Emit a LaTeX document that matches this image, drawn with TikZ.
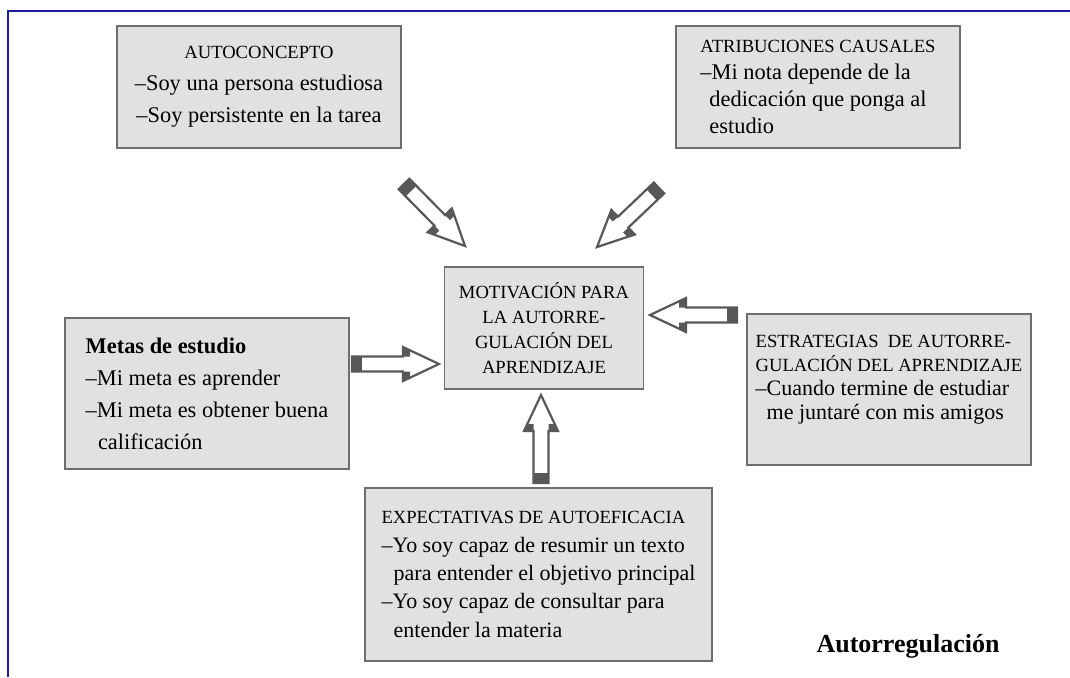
\documentclass[tikz,border=0pt]{standalone}
\usepackage{fontspec}
\setmainfont{Liberation Serif}
\usetikzlibrary{calc}

\definecolor{boxfill}{HTML}{E1E1E1}
\definecolor{boxedge}{HTML}{6E6E6E}
\definecolor{arrowdark}{HTML}{58585A}
\definecolor{frameblue}{HTML}{1E1EA0}

\newcommand{\hd}[1]{{\fontsize{9.3}{\baselineskip}\selectfont #1}}

% hollow block arrow from #1 (tail) to #2 (tip)
\newcommand{\hollowarrow}[2]{%
  \filldraw[arrowbody] ($(#1)!3.75pt!90:(#2)$)
    -- ($(#2)!18pt!(#1)!3.75pt!-90:(#1)$)
    -- ($(#2)!18pt!(#1)!8.5pt!-90:(#1)$)
    -- (#2)
    -- ($(#2)!18pt!(#1)!8.5pt!90:(#1)$)
    -- ($(#2)!18pt!(#1)!3.75pt!90:(#1)$)
    -- ($(#1)!3.75pt!-90:(#2)$) -- cycle;
  \fill[arrowdark] ($(#1)!3.75pt!90:(#2)$) -- ($(#1)!3.75pt!-90:(#2)$)
    -- ($(#1)!5pt!(#2)!3.75pt!-90:(#2)$) -- ($(#1)!5pt!(#2)!3.75pt!90:(#2)$) -- cycle;
  \fill[arrowdark] ($(#2)!18pt!(#1)!3.75pt!-90:(#1)$) -- ($(#2)!18pt!(#1)!8.5pt!-90:(#1)$)
    -- ($(#2)!14.5pt!(#1)!6.85pt!-90:(#1)$) -- ($(#2)!14.5pt!(#1)!3.75pt!-90:(#1)$) -- cycle;
  \fill[arrowdark] ($(#2)!18pt!(#1)!3.75pt!90:(#1)$) -- ($(#2)!18pt!(#1)!8.5pt!90:(#1)$)
    -- ($(#2)!14.5pt!(#1)!6.85pt!90:(#1)$) -- ($(#2)!14.5pt!(#1)!3.75pt!90:(#1)$) -- cycle;
}

\tikzset{
  box/.style={draw=boxedge, fill=boxfill, line width=0.8pt, minimum width=142pt, minimum height=61pt, inner sep=0pt},
  arrowbody/.style={draw=arrowdark, fill=white, line width=1.1pt, line join=miter}
}

\begin{document}
\begin{tikzpicture}[x=0.5pt, y=-0.5pt]
    \useasboundingbox (0,0) rectangle (1070,677);
    \draw[frameblue, line width=1pt] (8,677) -- (8,11) -- (1070,11);

        \begin{scope}[every node/.style={box}]
            \node[align=center, font=\fontsize{11.2}{16}\selectfont] (auto) at (259,87)
                {\hd{AUTOCONCEPTO}\\–Soy una persona estudiosa\\–Soy persistente en la tarea};
            \node[align=left, font=\fontsize{11.2}{13.5}\selectfont] (atrib) at (818,87)
                {\hd{ATRIBUCIONES CAUSALES}\\–Mi nota depende de la\\\hspace*{0.4em}dedicación que ponga al\\\hspace*{0.4em}estudio};
            \node[align=center, minimum width=99.5pt, font=\fontsize{9.3}{12.5}\selectfont] (motiv) at (544,328)
                {MOTIVACIÓN PARA\\LA AUTORRE-\\GULACIÓN DEL\\APRENDIZAJE};
            \node[align=left, minimum height=75.5pt, font=\fontsize{11.2}{16}\selectfont] (metas) at (207,393.5)
                {\textbf{Metas de estudio}\\–Mi meta es aprender\\–Mi meta es obtener buena\\\hspace*{0.55em}calificación};
            \node[align=left, minimum height=75.5pt, font=\fontsize{11}{12}\selectfont] (estrat) at (889,389.5)
                {\hd{ESTRATEGIAS\ \ DE AUTORRE-}\\\hd{GULACIÓN DEL APRENDIZAJE}\\–Cuando termine de estudiar\\\hspace*{0.5em}me juntaré con mis amigos\\\mbox{}};
            \node[align=left, minimum width=173.5pt, minimum height=86.5pt, font=\fontsize{11}{14.2}\selectfont] (expect) at (538.5,574.5)
                {\hd{EXPECTATIVAS DE AUTOEFICACIA}\\–Yo soy capaz de resumir un texto\\\hspace*{0.55em}para entender el objetivo principal\\–Yo soy capaz de consultar para\\\hspace*{0.55em}entender la materia};
        \end{scope}

        \node[anchor=base, font=\fontsize{13}{15}\selectfont\bfseries] (title) at (908,652) {Autorregulación};

        \coordinate (tl-tail) at (404,184);
        \coordinate (tl-tip) at (465,246);
        \coordinate (tr-tail) at (659,188);
        \coordinate (tr-tip) at (597,247);
        \coordinate (l-tail) at (352,364);
        \coordinate (l-tip) at (439,364);
        \coordinate (r-tail) at (737,315);
        \coordinate (r-tip) at (650,315);
        \coordinate (b-tail) at (541,483);
        \coordinate (b-tip) at (541,395);

        \hollowarrow{tl-tail}{tl-tip}
        \hollowarrow{tr-tail}{tr-tip}
        \hollowarrow{l-tail}{l-tip}
        \hollowarrow{r-tail}{r-tip}
        \hollowarrow{b-tail}{b-tip}

    \end{tikzpicture}
\end{document}
